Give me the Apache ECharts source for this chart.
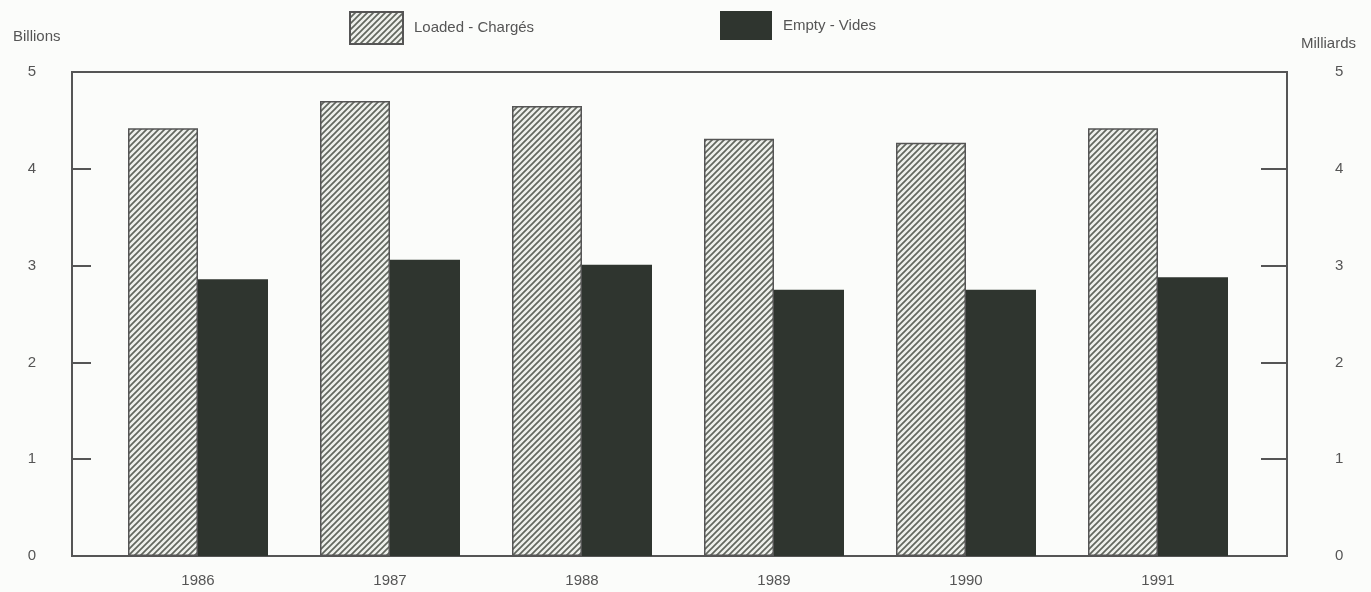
<!DOCTYPE html>
<html>
<head>
<meta charset="utf-8">
<script src="https://cdn.jsdelivr.net/npm/echarts@6/dist/echarts.min.js"></script>
<style>
  html, body { margin: 0; padding: 0; background: #fbfcfa; }
  #chart { width: 1371px; height: 592px; }
</style>
</head>
<body>
<div id="chart"></div>
<script>
// 数据
var years = ['1986', '1987', '1988', '1989', '1990', '1991'];
var loaded = [4.42, 4.70, 4.65, 4.31, 4.27, 4.42];
var empty = [2.86, 3.06, 3.01, 2.75, 2.75, 2.88];
var yTicks = [0, 1, 2, 3, 4, 5];

// 斜线填充
function hatch() {
  var s = 6;
  var c = document.createElement('canvas');
  c.width = s; c.height = s;
  var g = c.getContext('2d');
  g.fillStyle = '#eef0ec';
  g.fillRect(0, 0, s, s);
  g.strokeStyle = '#62675f';
  g.lineWidth = 1.7;
  g.beginPath();
  g.moveTo(-1, s + 1); g.lineTo(s + 1, -1);
  g.moveTo(-1, 1); g.lineTo(1, -1);
  g.moveTo(s - 1, s + 1); g.lineTo(s + 1, s - 1);
  g.stroke();
  return c;
}

var font = 'Liberation Sans, Arial, sans-serif';
var txt = '#555';

var chart = echarts.init(document.getElementById('chart'));
var option = {
  backgroundColor: '#fbfcfa',
  animation: false,
  title: [
    { text: 'Billions', left: 8, top: 24, textStyle: { fontSize: 15, fontWeight: 'normal', color: txt, fontFamily: font } },
    { text: 'Milliards', left: 1296, top: 31, textStyle: { fontSize: 15, fontWeight: 'normal', color: txt, fontFamily: font } }
  ],
  legend: [
    {
      data: ['Loaded - Chargés'], left: 349, top: 11, padding: 0, icon: 'rect',
      itemWidth: 53, itemHeight: 32,
      textStyle: { fontSize: 15, color: txt, fontFamily: font, padding: [0, 0, 0, 6] }
    },
    {
      data: ['Empty - Vides'], left: 720, top: 11, padding: 0, icon: 'rect',
      itemWidth: 52, itemHeight: 29,
      textStyle: { fontSize: 15, color: txt, fontFamily: font, padding: [0, 0, 0, 6] }
    }
  ],
  grid: [
    { left: 72, right: 84, top: 72, bottom: 36, show: true, borderColor: '#555', borderWidth: 2, backgroundColor: 'transparent' },
    { left: 102, right: 117, top: 72, bottom: 36 }
  ],
  xAxis: [
    { type: 'value', gridIndex: 0, show: false, min: 0, max: 1 },
    {
      type: 'category', gridIndex: 1, data: years,
      axisLine: { show: false }, axisTick: { show: false },
      axisLabel: { margin: 17, fontSize: 15, color: txt, fontFamily: font }
    }
  ],
  yAxis: [
    {
      type: 'value', gridIndex: 0, position: 'left', min: 0, max: 5, interval: 1,
      axisLine: { show: false }, splitLine: { show: false },
      axisTick: { show: true, inside: true, length: 19, lineStyle: { color: '#555', width: 2 } },
      axisLabel: { margin: 36, fontSize: 15, color: txt, fontFamily: font, formatter: function (v) { return yTicks.indexOf(v) >= 0 ? String(v) : ''; } }
    },
    {
      type: 'value', gridIndex: 0, position: 'right', min: 0, max: 5, interval: 1,
      axisLine: { show: false }, splitLine: { show: false },
      axisTick: { show: true, inside: true, length: 26, lineStyle: { color: '#555', width: 2 } },
      axisLabel: { margin: 48, fontSize: 15, color: txt, fontFamily: font }
    },
    { type: 'value', gridIndex: 1, min: 0, max: 5, show: false }
  ],
  series: [
    {
      name: 'Loaded - Chargés', type: 'bar', xAxisIndex: 1, yAxisIndex: 2,
      barWidth: 70, barGap: '0%', data: loaded,
      itemStyle: { color: { image: hatch(), repeat: 'repeat' }, borderColor: '#555', borderWidth: 1.5 }
    },
    {
      name: 'Empty - Vides', type: 'bar', xAxisIndex: 1, yAxisIndex: 2,
      barWidth: 70, data: empty,
      itemStyle: { color: '#2f352f' }
    }
  ]
};
chart.setOption(option);
window.addEventListener('resize', function () { chart.resize(); });
</script>
</body>
</html>
